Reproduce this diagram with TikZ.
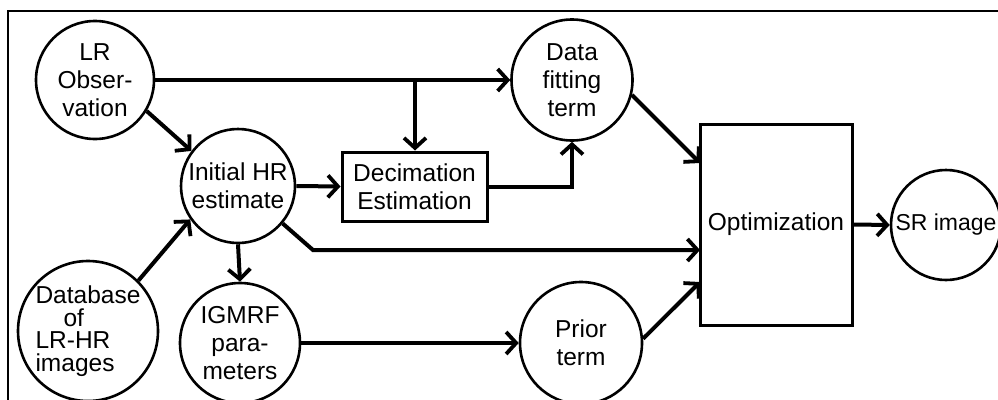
\documentclass[tikz,border=0pt]{standalone}
\usepackage{fontspec}
\setmainfont{Liberation Sans}
\usetikzlibrary{arrows.meta}
\begin{document}
\begin{tikzpicture}[x=1pt,y=-1pt,
  blob/.style={circle,draw,line width=2.6pt,inner sep=0pt,align=center,
    font=\fontsize{24.5}{28}\selectfont},
  panel/.style={rectangle,draw,line width=3pt,inner sep=0pt,align=center,
    font=\fontsize{24.5}{28}\selectfont},
  flow/.style={line width=4pt,
    -{Straight Barb[length=10pt,width=22pt,line width=3.8pt]}}]
\useasboundingbox (0,0) rectangle (998,399);
\clip (0,0) rectangle (998,399);
% outer frame
\draw[line width=2pt] (8,430) -- (8,11) -- (1010,11);

% nodes
\node[blob,minimum size=118pt] (lr) at (95,80) {LR\\Obser-\\vation};
\node[blob,minimum size=114pt] (init) at (238,186) {Initial HR\\estimate};
\node[blob,minimum size=140pt,align=left,font=\fontsize{24.5}{22.5}\selectfont] (db) at (88,331)
  {Database\\\hspace*{28pt}of\\LR-HR\\images};
\node[blob,minimum size=120pt] (igm) at (240,343) {IGMRF\\para-\\meters};
\node[blob,minimum size=121pt] (dft) at (572,80) {Data\\fitting\\term};
\node[panel,minimum width=145pt,minimum height=69pt] (dec) at (414.5,186.5) {Decimation\\Estimation};
\node[blob,minimum size=122pt] (prior) at (581,343) {Prior\\term};
\node[panel,minimum width=152pt,minimum height=201pt] (opt) at (776,224.5) {Optimization};
\node[blob,minimum size=110pt,font=\fontsize{23}{28}\selectfont] (sr) at (946,225) {SR image};

% junctions
\coordinate (split) at (415,80);
\coordinate (optA) at (700,163);
\coordinate (bend) at (313,250);
\coordinate (optB) at (700,250);
\coordinate (optC) at (700,282);

% connectors
\draw[flow] (lr.east) -- (dft.west);
\draw[flow] (split) -- (split |- dec.north);
\draw[flow] (lr.-31) -- (init.143);
\draw[flow] (init.east) -- (dec.west);
\draw[flow] (dec.east) -| (dft.south);
\draw[flow] (dft.-14) -- (optA);
\draw[flow] (init.-40) -- (bend) -- (optB);
\draw[flow] (db.45) -- (init.215);
\draw[flow] (init.south) -- (igm.north);
\draw[flow] (igm.east) -- (prior.west);
\draw[flow] (prior.4) -- (optC);
\draw[flow] (opt.east) -- (sr.west);
\end{tikzpicture}
\end{document}
